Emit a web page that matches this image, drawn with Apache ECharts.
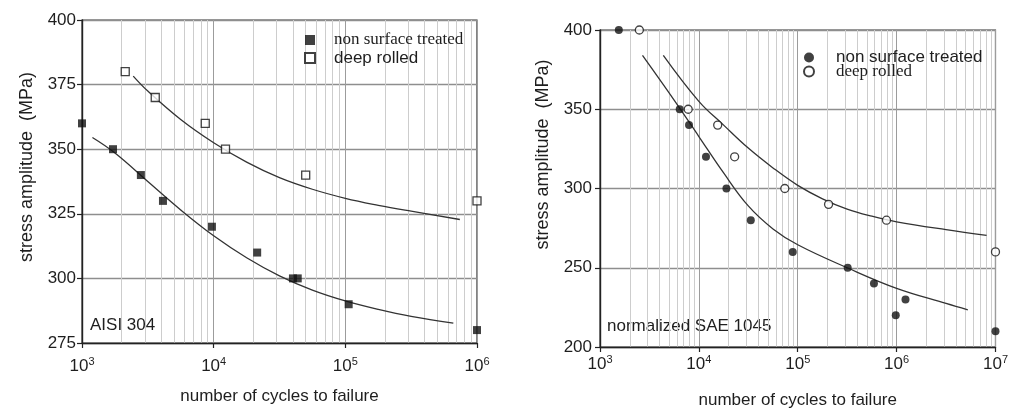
<!DOCTYPE html>
<html>
<head>
<meta charset="utf-8">
<script src="https://cdn.jsdelivr.net/npm/echarts@6/dist/echarts.min.js"></script>
<style>
  html, body { margin: 0; padding: 0; background: #fff; }
  #chart { width: 1011px; height: 414px; }
</style>
</head>
<body>
<div id="chart"></div>
<script>
// S-N data, AISI 304 (left panel)
const aisiNstCycles = [1000, 1720, 2800, 4120, 9700, 21400, 40000, 43500, 106000, 1000000];
const aisiNstStress = [360, 350, 340, 330, 320, 310, 300, 300, 290, 280];
const aisiDrCycles = [2130, 3600, 8630, 12300, 50000, 1000000];
const aisiDrStress = [380, 370, 360, 350, 340, 330];
// fitted S-N curves, AISI 304
const aisiNstFitCycles = [1200, 1780, 3160, 5620, 10000, 17800, 31600, 56200, 100000, 178000, 316000, 661000];
const aisiNstFitStress = [354.5, 348.5, 337.5, 326.5, 316.5, 308, 301, 295.5, 291.3, 288, 285.3, 282.7];
const aisiDrFitCycles = [2450, 3160, 5620, 10000, 17800, 31600, 56200, 100000, 178000, 316000, 741000];
const aisiDrFitStress = [378.3, 372.5, 361.5, 352.5, 345, 339, 334.5, 331, 328.3, 326, 322.8];

// S-N data, normalized SAE 1045 (right panel)
const saeNstCycles = [1550, 6400, 7950, 11800, 19000, 33500, 89000, 320000, 590000, 980000, 1230000, 10000000];
const saeNstStress = [400, 350, 340, 320, 300, 280, 260, 250, 240, 220, 230, 210];
const saeDrCycles = [2500, 7800, 15500, 23000, 74000, 205000, 790000, 10000000];
const saeDrStress = [400, 350, 340, 320, 300, 290, 280, 260];
// fitted S-N curves, SAE 1045
const saeNstFitCycles = [2690, 5620, 10000, 17800, 31600, 56200, 100000, 316000, 1000000, 3160000, 5250000];
const saeNstFitStress = [384, 355.8, 332.8, 309.8, 289, 274.5, 264.5, 250, 237, 227.5, 223.5];
const saeDrFitCycles = [4370, 10000, 17800, 31600, 56200, 100000, 178000, 316000, 562000, 1000000, 3160000, 8130000];
const saeDrFitStress = [384, 355, 340, 325.5, 313, 302, 293.5, 287, 282.5, 279, 274, 270.4];

// axis ranges and ticks
const aisiYTicks = { min: 275, max: 400, step: 25 };
const saeYTicks = { min: 200, max: 400, step: 50 };
const aisiXRange = [1e3, 1e6];
const saeXRange = [1e3, 1e7];

const labelNst = 'non surface treated';
const labelDr = 'deep rolled';
const panelA = 'AISI 304';
const panelB = 'normalized SAE 1045';

const pairs = (xs, ys) => xs.map((x, i) => [x, ys[i]]);
const SANS = '"Liberation Sans", Arial, sans-serif';
const SERIF = '"Liberation Serif", "Times New Roman", serif';
const INK = '#1e1e1e';
const squareIcon = 'path://M0,0H10V10H0Z';

function xAxisCfg(gridIndex, range, margin, nameGap) {
  return {
    type: 'log', logBase: 10, gridIndex,
    min: range[0], max: range[1],
    name: 'number of cycles to failure', nameLocation: 'middle', nameGap,
    nameTextStyle: { fontFamily: SANS, fontSize: 17, color: INK },
    axisLine: { show: true, lineStyle: { color: '#222', width: 1.4 } },
    axisTick: { show: true, inside: false, length: 5, lineStyle: { color: '#222', width: 1.2 } },
    axisLabel: {
      margin, color: INK, fontFamily: SANS,
      formatter: v => '{b|10}{e|' + Math.round(Math.log10(v)) + '}',
      rich: {
        b: { fontSize: 17, fontFamily: SANS, color: INK, lineHeight: 20 },
        e: { fontSize: 11, fontFamily: SANS, color: INK, verticalAlign: 'top', lineHeight: 11 }
      }
    },
    splitLine: { show: true, lineStyle: { color: '#9c9c9c', width: 1 } },
    minorTick: { show: false, splitNumber: 9 },
    minorSplitLine: { show: true, lineStyle: { color: '#cdcdcd', width: 1 } }
  };
}

function yAxisCfg(gridIndex, t, nameGap, shift, margin) {
  return {
    type: 'value', gridIndex,
    min: t.min, max: t.max, interval: t.step,
    name: 'stress amplitude  (MPa)', nameLocation: 'middle', nameGap, nameRotate: 90,
    nameTextStyle: { fontFamily: SANS, fontSize: 18, color: INK, padding: [0, 0, 0, shift] },
    axisLine: { show: true, lineStyle: { color: '#222', width: 1.4 } },
    axisTick: { show: true, inside: false, length: 5, lineStyle: { color: '#222', width: 1.2 } },
    axisLabel: { margin, fontFamily: SANS, fontSize: 17, color: INK },
    splitLine: { show: true, lineStyle: { color: '#8e8e8e', width: 1.3 } }
  };
}

const filled = { color: '#111' };
const hollow = { color: '#fff', borderColor: '#111', borderWidth: 1.3 };
const fitLine = { color: '#333', width: 1.3 };

function scatter(name, xi, data, symbol, style) {
  return {
    type: 'scatter', name, xAxisIndex: xi, yAxisIndex: xi, data,
    symbol, symbolSize: 8, itemStyle: style, z: 4, clip: false,
    emphasis: { disabled: true }
  };
}
function fit(name, xi, data) {
  return {
    type: 'line', name, xAxisIndex: xi, yAxisIndex: xi, data,
    smooth: 0.4, showSymbol: false, symbol: 'none', lineStyle: fitLine, z: 3,
    emphasis: { disabled: true }
  };
}

const chart = echarts.init(document.getElementById('chart'), null, { renderer: 'canvas' });
chart.setOption({
  animation: false,
  backgroundColor: '#fff',
  grid: [
    { left: 82, top: 20, width: 395, height: 323, show: true, borderColor: '#333', borderWidth: 1.2, backgroundColor: 'transparent' },
    { left: 600, top: 30, width: 396, height: 323, show: true, borderColor: '#333', borderWidth: 1.2, backgroundColor: 'transparent' }
  ],
  xAxis: [xAxisCfg(0, aisiXRange, 13, 45), xAxisCfg(1, saeXRange, 7, 45)],
  yAxis: [yAxisCfg(0, aisiYTicks, 46, 29, 6), yAxisCfg(1, saeYTicks, 48, 68, 8)],
  legend: [
    {
      orient: 'vertical', left: 304, top: 31, padding: 0, itemWidth: 38, itemHeight: 10, itemGap: 0,
      selectedMode: false, symbolKeepAspect: true,
      formatter: n => n.split(': ')[1],
      textStyle: { fontSize: 17, color: INK, lineHeight: 18 },
      data: [
        { name: panelA + ': ' + labelNst, icon: squareIcon, textStyle: { fontFamily: SERIF } },
        { name: panelA + ': ' + labelDr, icon: squareIcon, textStyle: { fontFamily: SANS } }
      ]
    },
    {
      orient: 'vertical', left: 803, top: 49, padding: 0, itemWidth: 44, itemHeight: 10, itemGap: -3,
      selectedMode: false,
      formatter: n => n.split(': ')[1],
      textStyle: { fontSize: 17, color: INK, lineHeight: 17 },
      data: [
        { name: panelB + ': ' + labelNst, icon: 'circle', textStyle: { fontFamily: SANS } },
        { name: panelB + ': ' + labelDr, icon: 'circle', textStyle: { fontFamily: SERIF } }
      ]
    }
  ],
  graphic: [
    { type: 'text', left: 90, top: 317, style: { text: panelA, fontFamily: SANS, fontSize: 17, fill: INK } },
    { type: 'text', left: 607, top: 318, style: { text: panelB, fontFamily: SANS, fontSize: 17, fill: INK } }
  ],
  series: [
    fit('AISI 304 fit NST', 0, pairs(aisiNstFitCycles, aisiNstFitStress)),
    fit('AISI 304 fit DR', 0, pairs(aisiDrFitCycles, aisiDrFitStress)),
    scatter(panelA + ': ' + labelNst, 0, pairs(aisiNstCycles, aisiNstStress), 'rect', filled),
    scatter(panelA + ': ' + labelDr, 0, pairs(aisiDrCycles, aisiDrStress), 'rect', hollow),
    fit('SAE 1045 fit NST', 1, pairs(saeNstFitCycles, saeNstFitStress)),
    fit('SAE 1045 fit DR', 1, pairs(saeDrFitCycles, saeDrFitStress)),
    scatter(panelB + ': ' + labelNst, 1, pairs(saeNstCycles, saeNstStress), 'circle', filled),
    scatter(panelB + ': ' + labelDr, 1, pairs(saeDrCycles, saeDrStress), 'circle', hollow)
  ]
});
</script>
</body>
</html>
